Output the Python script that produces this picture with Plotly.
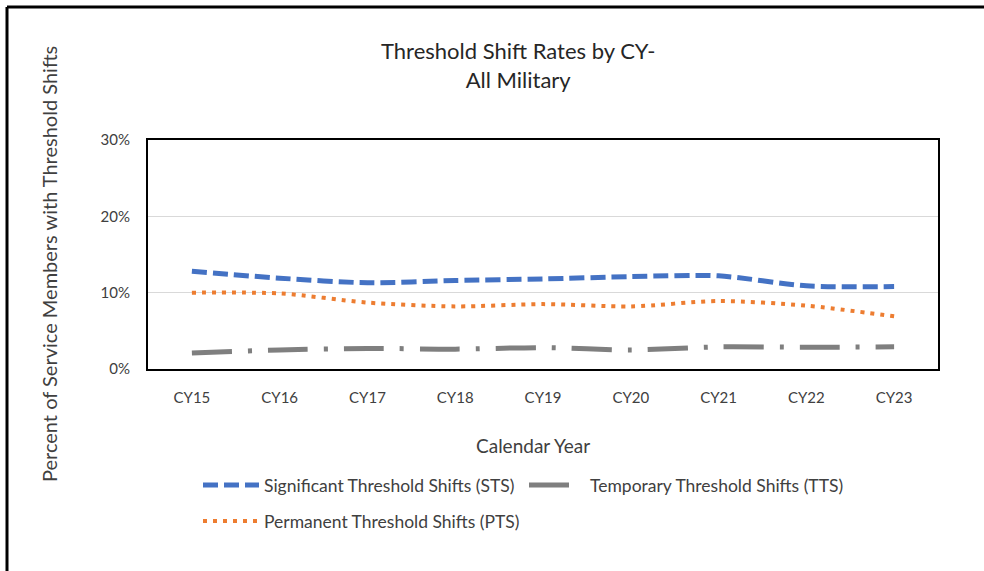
import plotly.graph_objects as go

years = ["CY15", "CY16", "CY17", "CY18", "CY19", "CY20", "CY21", "CY22", "CY23"]
sts = [0.128, 0.119, 0.113, 0.116, 0.118, 0.121, 0.122, 0.109, 0.108]
tts = [0.021, 0.025, 0.027, 0.026, 0.028, 0.025, 0.029, 0.0285, 0.029]
pts = [0.100, 0.099, 0.087, 0.082, 0.085, 0.082, 0.089, 0.083, 0.069]

W, H = 984, 571
L, R, T, B = 148, 46, 140, 202
pw, ph = W - L - R, H - T - B

def px_x(x):
    return (x - L) / pw

def px_y(y):
    return (H - B - y) / ph

FONT = "Lato"
TXT = "#404040"
LEG_FS = 17.5
ITEMW = 56

fig = go.Figure()
fig.add_trace(go.Scatter(x=years, y=sts, mode="lines", name="Significant Threshold Shifts (STS)",
                         legend="legend",
                         line=dict(color="#4472C4", width=5, dash="15px,6px", shape="spline", smoothing=0.8)))
fig.add_trace(go.Scatter(x=years, y=tts, mode="lines", name="Temporary Threshold Shifts (TTS)",
                         legend="legend2",
                         line=dict(color="#7F7F7F", width=5, dash="40px,16px,4px,16px", shape="spline", smoothing=0.8)))
fig.add_trace(go.Scatter(x=years, y=pts, mode="lines", name="Permanent Threshold Shifts (PTS)",
                         legend="legend3",
                         line=dict(color="#ED7D31", width=4, dash="4px,6px", shape="spline", smoothing=0.8)))

def leg(xtext, ymid):
    return dict(x=px_x(xtext - ITEMW - 10), xanchor="left", y=px_y(ymid), yanchor="middle",
                itemwidth=ITEMW, font=dict(family=FONT, size=LEG_FS, color=TXT),
                bgcolor="rgba(0,0,0,0)", borderwidth=0)

fig.update_layout(
    width=W, height=H,
    margin=dict(l=L, r=R, t=T, b=B, autoexpand=False),
    paper_bgcolor="white", plot_bgcolor="white",
    font=dict(family=FONT, color=TXT, size=15),
    showlegend=True,
    legend=leg(264, 485),
    legend2=leg(590, 485),
    legend3=leg(264, 521),
    xaxis=dict(type="category", range=[-0.5, 8.5], showgrid=False, zeroline=False,
               showline=True, linecolor="black", linewidth=2, mirror=True,
               ticks="", tickfont=dict(family=FONT, size=15, color=TXT), ticklabelstandoff=14),
    yaxis=dict(range=[0, 0.30], dtick=0.1, tickformat=".0%", showgrid=True, gridcolor="#D9D9D9",
               gridwidth=1, zeroline=False, showline=True, linecolor="black", linewidth=2, mirror=True,
               ticks="", tickfont=dict(family=FONT, size=15, color=TXT), ticklabelstandoff=13),
)

fig.add_annotation(text="Threshold Shift Rates by CY-<br>All Military", xref="paper", yref="paper",
                   x=px_x(518), y=px_y(65), xanchor="center", yanchor="middle", showarrow=False,
                   font=dict(family=FONT, size=22, color="#262626"))
fig.add_annotation(text="Calendar Year", xref="paper", yref="paper", x=px_x(533), y=px_y(445),
                   xanchor="center", yanchor="middle", showarrow=False,
                   font=dict(family=FONT, size=19, color=TXT))
fig.add_annotation(text="Percent of Service Members with Threshold Shifts", xref="paper", yref="paper",
                   x=px_x(49), y=px_y(264), xanchor="center", yanchor="middle", showarrow=False,
                   textangle=-90, font=dict(family=FONT, size=20, color=TXT))

# outer chart border (top and left visible)
fig.add_shape(type="line", xref="paper", yref="paper", x0=px_x(7), x1=px_x(990), y0=px_y(7), y1=px_y(7),
              line=dict(color="black", width=3))
fig.add_shape(type="line", xref="paper", yref="paper", x0=px_x(7), x1=px_x(7), y0=px_y(7), y1=px_y(580),
              line=dict(color="black", width=3))

fig.write_html("out.html")
